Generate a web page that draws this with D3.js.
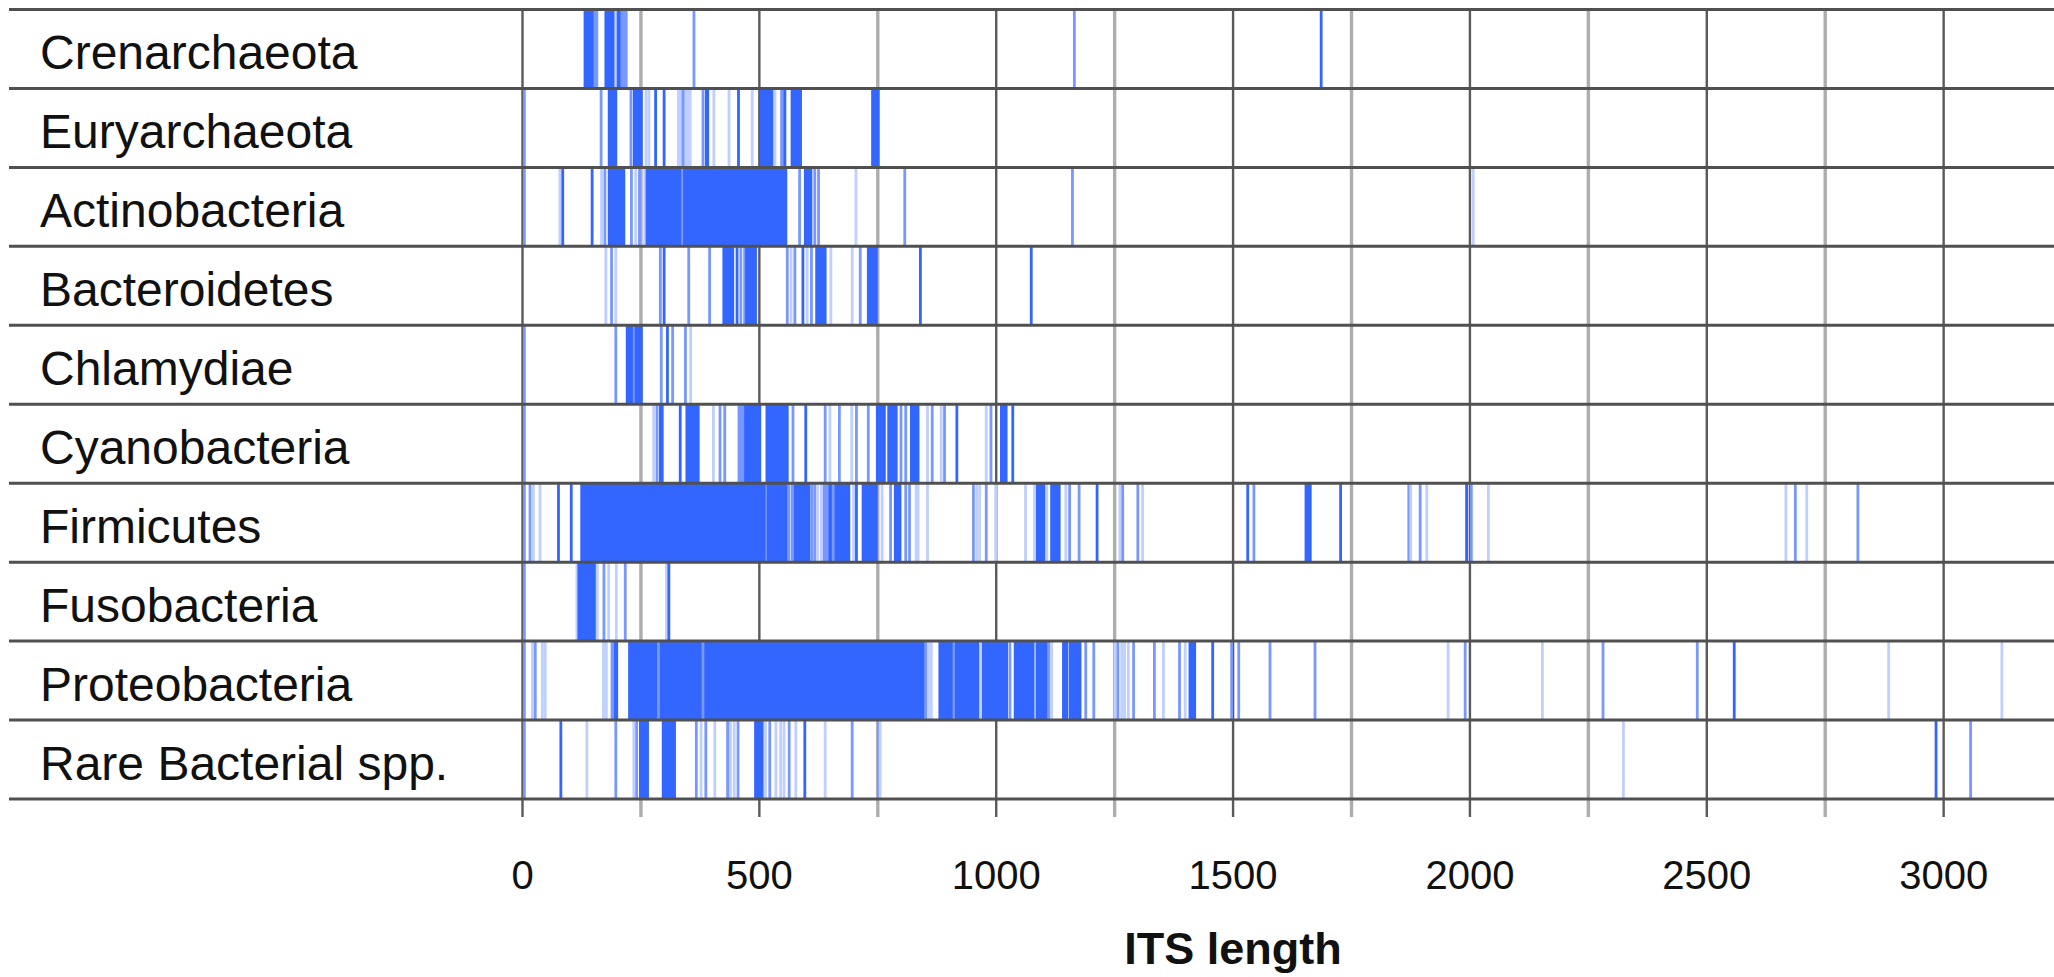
<!DOCTYPE html>
<html><head><meta charset="utf-8">
<script src="https://cdn.jsdelivr.net/npm/d3@7"></script>
<style>body{margin:0;background:#fff;} svg{display:block;}</style>
</head><body>
<svg id="chart" width="2054" height="977"></svg>
<script>
// ---------- data (ITS lengths: [from, to, density level 1-3]) ----------
const categories = ["Crenarchaeota","Euryarchaeota","Actinobacteria","Bacteroidetes","Chlamydiae",
  "Cyanobacteria","Firmicutes","Fusobacteria","Proteobacteria","Rare Bacterial spp."];

const crenarchaeota = [[133,152,3],[154,158,2],[177,196,3],[198,201,1],[203,209,3],[211,220,2],
  [363,363,2],[1166,1166,2],[1687,1687,3]];

const euryarchaeota = [[5,5,2],[167,167,2],[184,198,3],[230,230,2],[237,252,3],[262,262,1],[268,268,1],
  [282,282,3],[300,300,3],[330,355,1],[340,340,2],[382,382,2],[389,392,3],[405,405,1],[437,437,1],
  [457,457,3],[486,486,1],[505,528,3],[534,534,1],[548,550,2],[555,555,3],[570,588,3],[740,752,3]];

const actinobacteria = [[5,5,2],[80,80,1],[86,86,3],[148,148,3],[168,168,1],[175,175,2],[184,215,3],
  [231,231,2],[240,240,1],[248,248,2],[259,259,1],[264,335,3],[339,339,2],[343,557,3],[586,586,2],
  [598,610,3],[618,618,2],[626,626,2],[705,705,1],[808,808,2],[1162,1162,2],[2008,2008,1]];

const bacteroidetes = [[177,177,1],[189,189,2],[198,198,1],[292,292,2],[300,300,3],[352,352,2],
  [396,396,2],[426,445,3],[454,454,3],[462,462,2],[470,470,2],[474,493,3],[560,560,2],[568,568,1],
  [576,576,2],[593,593,3],[602,602,1],[611,611,2],[622,640,3],[652,652,1],[697,697,1],[714,714,2],
  [731,748,3],[841,841,3],[1075,1075,3]];

const chlamydiae = [[5,5,2],[198,198,2],[222,233,3],[237,237,2],[241,252,3],[294,294,2],[307,307,3],
  [318,318,2],[345,345,2],[356,356,1]];

const cyanobacteria = [[5,5,2],[278,278,1],[285,285,2],[292,296,3],[334,334,3],[348,372,3],
  [404,404,1],[418,418,2],[428,428,2],[458,470,2],[472,502,3],[517,560,3],[572,572,2],[599,599,3],
  [640,640,2],[650,650,1],[670,670,2],[696,696,1],[706,706,2],[731,731,2],[750,765,3],[774,790,3],
  [800,800,2],[810,810,2],[822,832,3],[836,836,3],[856,856,1],[866,866,2],[885,885,1],[892,892,2],
  [918,918,3],[980,980,1],[990,990,2],[1012,1022,3],[1036,1036,3]];

const firmicutes = [[5,5,2],[17,17,2],[24,24,1],[38,38,1],[77,77,3],[104,104,3],[126,513,3],
  [517,517,2],[520,558,3],[563,563,2],[570,570,2],[576,606,3],[612,612,2],[618,618,2],[624,624,1],
  [632,632,1],[638,645,2],[650,690,3],[657,657,2],[700,700,1],[706,706,3],[720,748,3],[760,760,1],
  [778,778,2],[788,798,3],[810,810,2],[818,818,2],[832,832,1],[836,836,1],[856,856,1],[953,953,2],
  [960,960,1],[966,966,1],[980,980,2],[1000,1000,1],[1063,1063,1],[1082,1082,1],[1088,1102,3],
  [1108,1108,1],[1118,1134,3],[1148,1148,1],[1156,1156,2],[1176,1176,2],[1214,1214,3],[1262,1262,1],
  [1268,1268,2],[1300,1300,2],[1310,1310,1],[1532,1532,3],[1545,1545,2],[1655,1664,3],[1728,1728,3],
  [1872,1872,2],[1876,1876,1],[1896,1896,2],[1910,1910,1],[1994,1994,3],[2004,2004,2],[2040,2040,1],
  [2668,2668,1],[2688,2688,2],[2712,2712,1],[2820,2820,2]];

const fusobacteria = [[5,5,2],[116,116,1],[120,153,3],[159,159,1],[173,173,2],[183,183,1],
  [199,199,1],[218,218,2],[305,305,1],[310,310,3]];

const proteobacteria = [[5,5,2],[22,22,1],[28,28,2],[43,43,1],[49,49,1],[172,172,1],[178,178,1],
  [190,190,2],[196,200,3],[227,849,3],[288,288,2],[382,382,2],[852,852,2],[858,858,1],[864,864,1],
  [882,907,3],[912,912,2],[917,963,3],[968,968,1],[974,1023,3],[1030,1030,2],[1041,1079,3],
  [1087,1107,3],[1112,1112,2],[1118,1118,1],[1143,1150,3],[1157,1178,3],[1190,1190,2],[1207,1207,2],
  [1252,1252,1],[1258,1258,2],[1266,1266,1],[1272,1272,1],[1280,1280,1],[1291,1291,2],[1335,1335,2],
  [1354,1354,1],[1388,1388,2],[1400,1400,1],[1410,1420,3],[1458,1458,3],[1498,1498,2],[1513,1513,2],
  [1579,1579,2],[1674,1674,2],[1955,1955,1],[1991,1991,2],[2154,2154,1],[2282,2282,2],[2481,2481,2],
  [2559,2559,3],[2885,2885,1],[3124,3124,1]];

const rareBacteria = [[5,5,2],[82,82,3],[137,137,1],[198,198,2],[236,236,1],[242,242,2],[250,265,3],
  [298,322,3],[368,368,2],[378,378,1],[388,388,2],[407,407,1],[434,434,2],[440,440,1],[448,448,1],
  [456,456,2],[493,507,3],[514,514,1],[523,523,2],[536,536,1],[546,546,1],[553,553,1],[564,564,2],
  [578,578,1],[597,597,3],[640,640,1],[697,697,2],[752,752,2],[756,756,1],[2325,2325,1],
  [2985,2985,3],[3058,3058,2]];

const seriesByCategory = [crenarchaeota, euryarchaeota, actinobacteria, bacteroidetes, chlamydiae,
  cyanobacteria, firmicutes, fusobacteria, proteobacteria, rareBacteria];

const gridTicks = [0,250,500,750,1000,1250,1500,1750,2000,2250,2500,2750,3000];
const tickLabels = ["0","500","1000","1500","2000","2500","3000"];
const axisTitle = "ITS length";

// ---------- layout ----------
const svg = d3.select("#chart");
const x = d3.scaleLinear().domain([0, 3234]).range([522, 2054]);
const y = d3.scaleBand().domain(categories).range([9.5, 799]);
const plotTop = y.range()[0], plotBottom = y.range()[1];
const levelColor = d3.scaleOrdinal().domain([1,2,3]).range(["#bfcfff","#7898ff","#3366ff"]);
const FONT = "'Liberation Sans', Arial, Helvetica, sans-serif";

// axis with gridlines (drawn below marks)
const labelFor = new Map(tickLabels.map(s => [+s, s]));
const axisG = svg.append("g").attr("transform", `translate(0,${plotBottom})`)
  .call(d3.axisBottom(x).tickValues(gridTicks).tickSize(18).tickPadding(44)
    .tickFormat(d => labelFor.get(d) || ""));
axisG.select(".domain").remove();
axisG.selectAll(".tick line")
  .attr("y1", -(plotBottom - plotTop))
  .attr("y2", 18)
  .attr("stroke", d => d % 500 === 0 ? "#5a5a5a" : "#adadad")
  .attr("stroke-width", d => d % 500 === 0 ? 2.4 : 3.4);
axisG.selectAll(".tick text")
  .attr("font-family", FONT).attr("font-size", 40).attr("fill", "#111");

// marks
const rows = svg.append("g");
categories.forEach((c, i) => {
  rows.append("g").selectAll("rect").data(seriesByCategory[i]).join("rect")
    .attr("x", d => x(d[0]) - 1.4)
    .attr("width", d => x(d[1]) - x(d[0]) + 2.8)
    .attr("y", y(c))
    .attr("height", y.bandwidth())
    .attr("fill", d => levelColor(d[2]));
});

// row separators
const sepY = categories.map(c => y(c)).concat([plotBottom]);
svg.append("g").selectAll("line").data(sepY).join("line")
  .attr("x1", 9).attr("x2", 2054)
  .attr("y1", d => d).attr("y2", d => d)
  .attr("stroke", "#505050").attr("stroke-width", 3);

// row labels
svg.append("g").selectAll("text").data(categories).join("text")
  .attr("x", 40)
  .attr("y", d => y(d) + y.bandwidth() / 2 + 20)
  .attr("font-family", FONT).attr("font-size", 48).attr("fill", "#111")
  .text(d => d);

// axis title
svg.append("text")
  .attr("x", 1233).attr("y", 964)
  .attr("text-anchor", "middle")
  .attr("font-family", FONT).attr("font-size", 45).attr("font-weight", "bold").attr("fill", "#111")
  .text(axisTitle);
</script>
</body></html>
